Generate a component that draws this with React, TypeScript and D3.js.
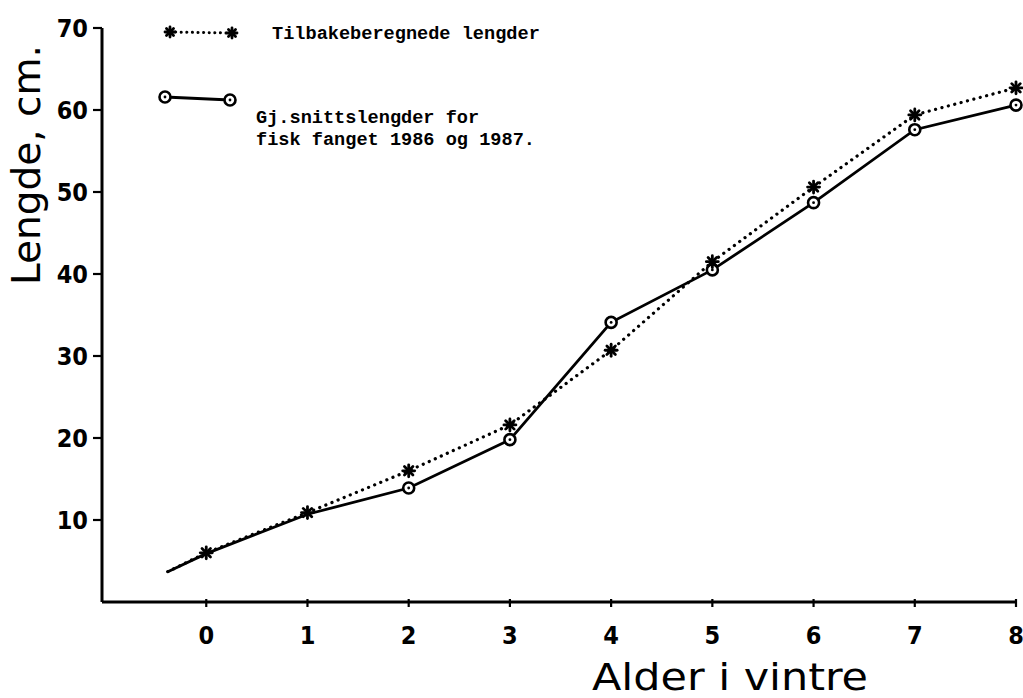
import React from 'react';
import * as d3 from 'd3';

const ages = [-0.38, 0, 1, 2, 3, 4, 5, 6, 7, 8];
const backCalc = [3.7, 6.0, 10.9, 16.0, 21.6, 30.7, 41.5, 50.6, 59.4, 62.7];
const meanLen = [3.7, 5.9, 10.7, 13.9, 19.8, 34.1, 40.5, 48.7, 57.6, 60.6];
const xTicks = [0, 1, 2, 3, 4, 5, 6, 7, 8];
const yTicks = [10, 20, 30, 40, 50, 60, 70];
const legend1 = 'Tilbakeberegnede lengder';
const legend2a = 'Gj.snittslengder for';
const legend2b = 'fisk fanget 1986 og 1987.';
const xTitle = 'Alder i vintre';
const yTitle = 'Lengde, cm.';

const W = 1023, H = 698;
const x = d3.scaleLinear().domain([-1.03, 8]).range([102, 1016]);
const y = d3.scaleLinear().domain([0, 70]).range([602, 28]);

function Star({ cx, cy, r = 6 }: { cx: number; cy: number; r?: number }) {
  const angles = [0, 45, 90, 135];
  return (
    <g stroke="#000" strokeWidth={2.8} strokeLinecap="round">
      {angles.map((a) => {
        const rad = (a * Math.PI) / 180;
        const dx = Math.cos(rad) * r, dy = Math.sin(rad) * r;
        return <line key={a} x1={cx - dx} y1={cy - dy} x2={cx + dx} y2={cy + dy} />;
      })}
    </g>
  );
}

function Ring({ cx, cy }: { cx: number; cy: number }) {
  return (
    <g>
      <circle cx={cx} cy={cy} r={5.5} fill="#fff" stroke="#000" strokeWidth={2.6} />
      <circle cx={cx} cy={cy} r={1.4} fill="#000" />
    </g>
  );
}

export default function App() {
  const line = d3.line<number>().x((_, i) => x(ages[i])).y((d) => y(d));
  const dStar = line(backCalc) || '';
  const dMean = line(meanLen) || '';
  const font = '"DejaVu Sans Condensed", "DejaVu Sans", sans-serif';
  const mono = '"Liberation Mono", "DejaVu Sans Mono", monospace';
  const x0 = x(-1.03);
  return (
    <svg width={W} height={H} style={{ position: 'absolute', left: 0, top: 0, background: '#fff' }}>
      <rect width={W} height={H} fill="#fff" />
      {/* axes */}
      <line x1={x0} y1={y(0)} x2={x(8)} y2={y(0)} stroke="#000" strokeWidth={3} />
      <line x1={x0} y1={y(0)} x2={x0} y2={y(70)} stroke="#000" strokeWidth={3} />
      {yTicks.map((t) => (
        <g key={t}>
          <line x1={x0 - 9} x2={x0} y1={y(t)} y2={y(t)} stroke="#000" strokeWidth={2.2} />
          <text x={x0 - 14} y={y(t)} dy="0.36em" textAnchor="end" fontFamily={font} fontWeight="bold" fontSize={25}>
            {t}
          </text>
        </g>
      ))}
      {xTicks.map((t) => (
        <g key={t}>
          <line x1={x(t)} x2={x(t)} y1={y(0) - 3} y2={y(0) + 5} stroke="#000" strokeWidth={2.2} />
          <text x={x(t)} y={y(0) + 42} textAnchor="middle" fontFamily={font} fontWeight="bold" fontSize={25}>
            {t}
          </text>
        </g>
      ))}
      <text x={592} y={690} fontFamily={font} fontSize={38} textLength={276} lengthAdjust="spacingAndGlyphs">{xTitle}</text>
      <text transform={`translate(40,165) rotate(-90)`} textAnchor="middle" fontFamily={font} fontSize={39} textLength={240} lengthAdjust="spacingAndGlyphs">
        {yTitle}
      </text>
      {/* series */}
      <path d={dMean} fill="none" stroke="#000" strokeWidth={2.8} strokeLinecap="round" />
      <path d={dStar} fill="none" stroke="#000" strokeWidth={3.2} strokeDasharray="0.1 6.5" strokeLinecap="round" />
      {meanLen.map((v, i) =>
        ages[i] >= 2 ? <Ring key={i} cx={x(ages[i])} cy={y(v)} /> : null
      )}
      {backCalc.map((v, i) =>
        ages[i] >= 0 ? <Star key={i} cx={x(ages[i])} cy={y(v)} /> : null
      )}
      {/* legend */}
      <line x1={170} y1={32} x2={232} y2={33} stroke="#000" strokeWidth={3} strokeDasharray="0.1 5.5" strokeLinecap="round" />
      <Star cx={170} cy={32} r={5} />
      <Star cx={232} cy={33} r={5} />
      <text x={272} y={39} fontFamily={mono} fontSize={18.6} fontWeight="bold">{legend1}</text>
      <line x1={165} y1={97} x2={230} y2={100} stroke="#000" strokeWidth={2.8} />
      <Ring cx={165} cy={97} />
      <Ring cx={230} cy={100} />
      <text x={256} y={123} fontFamily={mono} fontSize={18.6} fontWeight="bold">{legend2a}</text>
      <text x={256} y={145} fontFamily={mono} fontSize={18.6} fontWeight="bold">{legend2b}</text>
    </svg>
  );
}
